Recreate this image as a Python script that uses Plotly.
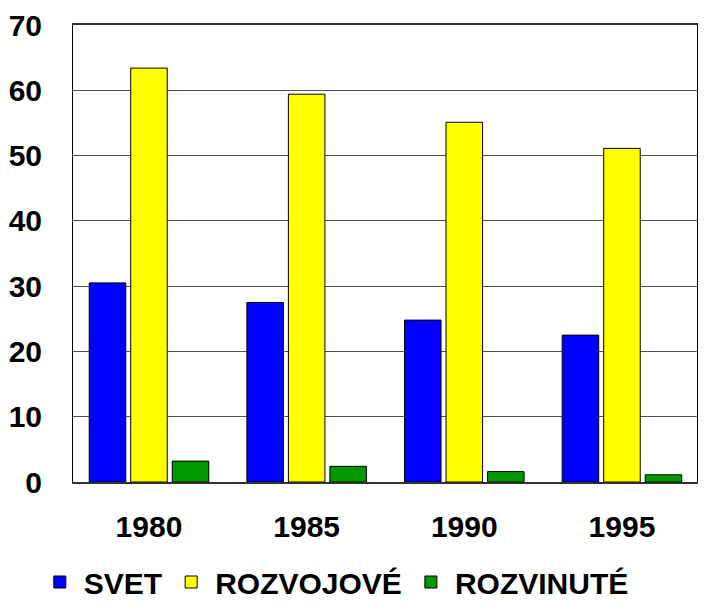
import plotly.graph_objects as go

# Years on the category axis
years = ["1980", "1985", "1990", "1995"]

# Series values
svet = [30.5, 27.5, 24.8, 22.5]
rozvojove = [63.4, 59.4, 55.1, 51.1]
rozvinute = [3.2, 2.4, 1.6, 1.1]

# Y-axis ticks
y_ticks = [0, 10, 20, 30, 40, 50, 60, 70]

FONT = "Liberation Sans, Arial, sans-serif"

series = [
    ("SVET", svet, "#0000FF"),
    ("ROZVOJOVÉ", rozvojove, "#FFFF00"),
    ("ROZVINUTÉ", rozvinute, "#009900"),
]

fig = go.Figure()
for name, vals, color in series:
    fig.add_trace(go.Bar(
        x=years, y=vals, name=name,
        marker=dict(color=color, line=dict(color="#000000", width=1)),
    ))

fig.update_layout(
    width=716, height=608,
    margin=dict(l=73, r=19, t=25, b=126, autoexpand=False),
    paper_bgcolor="white", plot_bgcolor="white",
    barmode="group", bargap=0.21, bargroupgap=0.12,
    font=dict(family=FONT, size=30, color="black", weight="bold"),
    showlegend=True,
    legend=dict(
        orientation="h",
        xref="container", x=0.05, xanchor="left",
        yref="container", y=-0.018, yanchor="bottom",
        font=dict(family=FONT, size=30, color="black", weight="bold"),
        itemwidth=38, tracegroupgap=0,
    ),
)

fig.update_xaxes(
    type="category", range=[-0.482, 3.476],
    showline=True, linecolor="#303030", linewidth=2, mirror=True,
    showgrid=False, ticks="", ticklabelstandoff=17,
    tickfont=dict(family=FONT, size=30, color="black", weight="bold"),
)
fig.update_yaxes(
    range=[0, 70], tickvals=y_ticks,
    showline=True, linecolor="#000000", linewidth=1, mirror=True,
    showgrid=True, gridcolor="#505050", gridwidth=1,
    zeroline=False, ticks="", ticklabelstandoff=24,
    tickfont=dict(family=FONT, size=30, color="black", weight="bold"),
)

fig.write_html("out.html")
